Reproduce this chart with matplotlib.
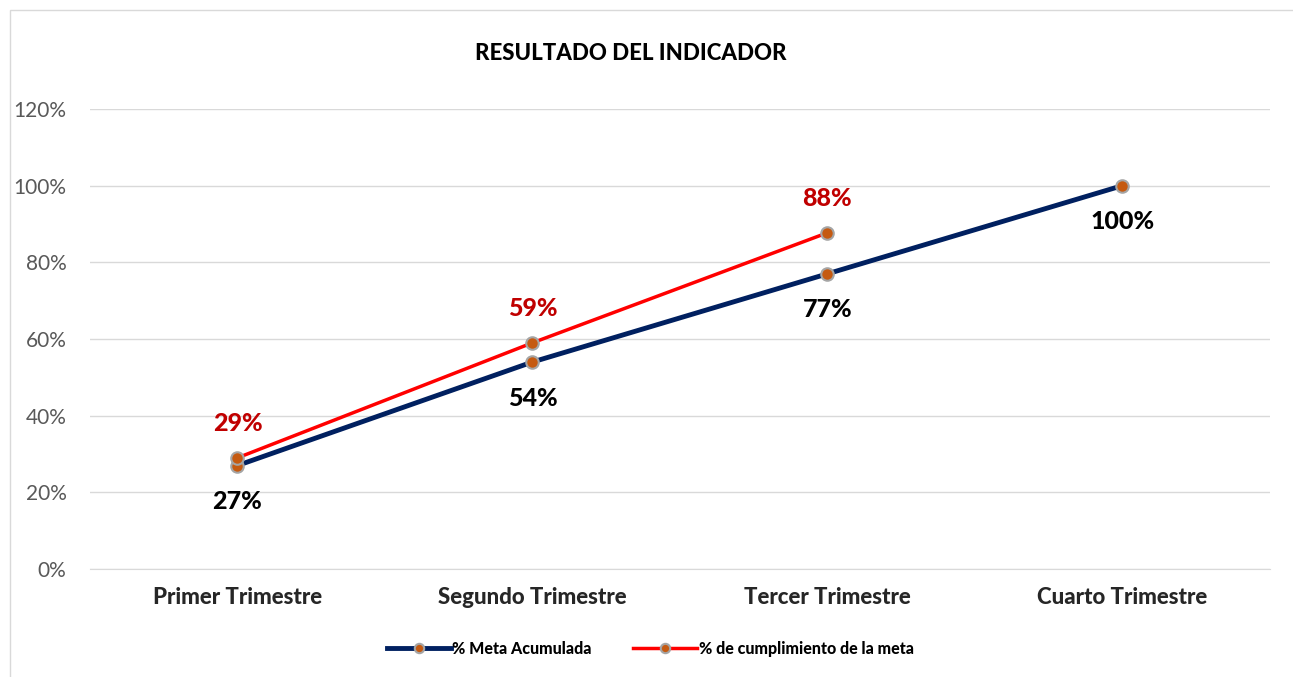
import matplotlib
matplotlib.use("Agg")
import matplotlib.pyplot as plt
from matplotlib.patches import Rectangle

plt.rcParams['font.family'] = ['Lato', 'DejaVu Sans']

# datos del indicador
trimestres = ["Primer Trimestre", "Segundo Trimestre", "Tercer Trimestre", "Cuarto Trimestre"]
meta_acumulada = [27, 54, 77, 100]
cumplimiento = [29, 59, 87.7]
etiquetas_meta = ["27%", "54%", "77%", "100%"]
etiquetas_cumpl = ["29%", "59%", "88%"]
y_ticks = [0, 20, 40, 60, 80, 100, 120]

fig = plt.figure(figsize=(12.93, 6.77), dpi=100)
ax = fig.add_axes([0.0696, 0.1595, 0.9124, 0.6795])

x = list(range(len(trimestres)))
marker_kw = dict(marker='o', markersize=9, markerfacecolor='#C55A11',
                 markeredgecolor='#A5A5A5', markeredgewidth=1.5)

ax.plot(x, meta_acumulada, color='#002060', linewidth=3.5,
        label='% Meta Acumulada', zorder=3, **marker_kw)
ax.plot(x[:len(cumplimiento)], cumplimiento, color='#FF0000', linewidth=2.5,
        label='% de cumplimiento de la meta', zorder=4, **marker_kw)

for xi, v, t in zip(x, meta_acumulada, etiquetas_meta):
    ax.annotate(t, (xi, v), xytext=(0, -26), textcoords='offset points',
                ha='center', va='center', fontsize=18, fontweight='black', color='black')
for xi, v, t in zip(x, cumplimiento, etiquetas_cumpl):
    ax.annotate(t, (xi, v), xytext=(0, 25), textcoords='offset points',
                ha='center', va='center', fontsize=18, fontweight='black', color='#C00000')

ax.set_xlim(-0.5, len(trimestres) - 0.5)
ax.set_ylim(0, 120)
ax.set_yticks(y_ticks)
ax.set_yticklabels([f"{v}%" for v in y_ticks], fontsize=15, color='#595959')
ax.set_xticks(x)
ax.set_xticklabels(trimestres, fontsize=16, fontweight='black', color='#262626')
ax.tick_params(axis='both', length=0)
ax.tick_params(axis='x', pad=13)
ax.tick_params(axis='y', pad=17)
ax.grid(axis='y', color='#D9D9D9', linewidth=1)
ax.set_axisbelow(True)
for s in ['top', 'right', 'left']:
    ax.spines[s].set_visible(False)
ax.spines['bottom'].set_color('#D9D9D9')

fig.text(0.488, 0.921, "RESULTADO DEL INDICADOR", ha='center', va='center',
         fontsize=16, fontweight='black', color='black')

leg = fig.legend(loc='center', bbox_to_anchor=(0.503, 0.042), ncol=2, frameon=False,
                 prop={'size': 11.5, 'weight': 'black'}, handlelength=4.0,
                 columnspacing=2.6, handletextpad=0.1, markerscale=0.75)

fig.patches.append(Rectangle((0.008, -0.01), 0.995, 0.995, transform=fig.transFigure,
                             fill=False, edgecolor='#D9D9D9', linewidth=1))

fig.savefig("out.png", dpi=100)
